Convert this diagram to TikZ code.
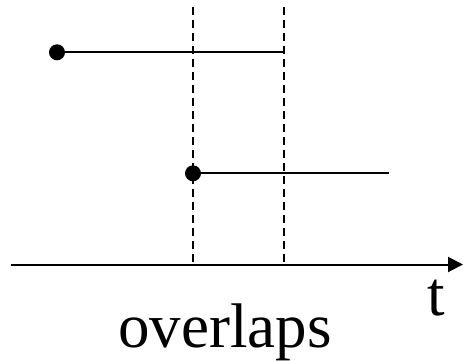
\documentclass[tikz,border=0pt]{standalone}
\usepackage{fontspec}
\setmainfont{Liberation Serif}
\usetikzlibrary{arrows.meta}
\begin{document}
\begin{tikzpicture}[x=1pt,y=-1pt,
  dot/.style={circle,fill=black,inner sep=0pt,minimum size=16pt},
  seg/.style={line width=2pt},
  guide/.style={line width=2.2pt,dash pattern=on 8pt off 5pt},
  axis/.style={line width=2pt,-{Triangle[length=15pt,width=15pt]}},
  lbl/.style={inner sep=0pt,anchor=base,font=\fontsize{63}{63}\selectfont}]
\useasboundingbox (0,0) rectangle (463,360);
% dashed guides
\coordinate (g1t) at (193,7);
\coordinate (g1b) at (193,264.5);
\coordinate (g2t) at (284,7);
\coordinate (g2b) at (284,264.5);
\draw[guide] (g1t) -- (g1b);
\draw[guide] (g2t) -- (g2b);
% intervals
\node[dot] (a) at (57,52.3) {};
\coordinate (ae) at (284,52.3);
\draw[seg] (a.center) -- (ae);
\node[dot] (b) at (193,173.3) {};
\coordinate (be) at (389,173.3);
\draw[seg] (b.center) -- (be);
% axis
\coordinate (x0) at (11,264.5);
\coordinate (x1) at (463,264.5);
\draw[axis] (x0) -- (x1);
% labels
\node[lbl] (t) at (436,315) {t};
\node[lbl] (ov) at (225,347) {overlaps};
\end{tikzpicture}
\end{document}
